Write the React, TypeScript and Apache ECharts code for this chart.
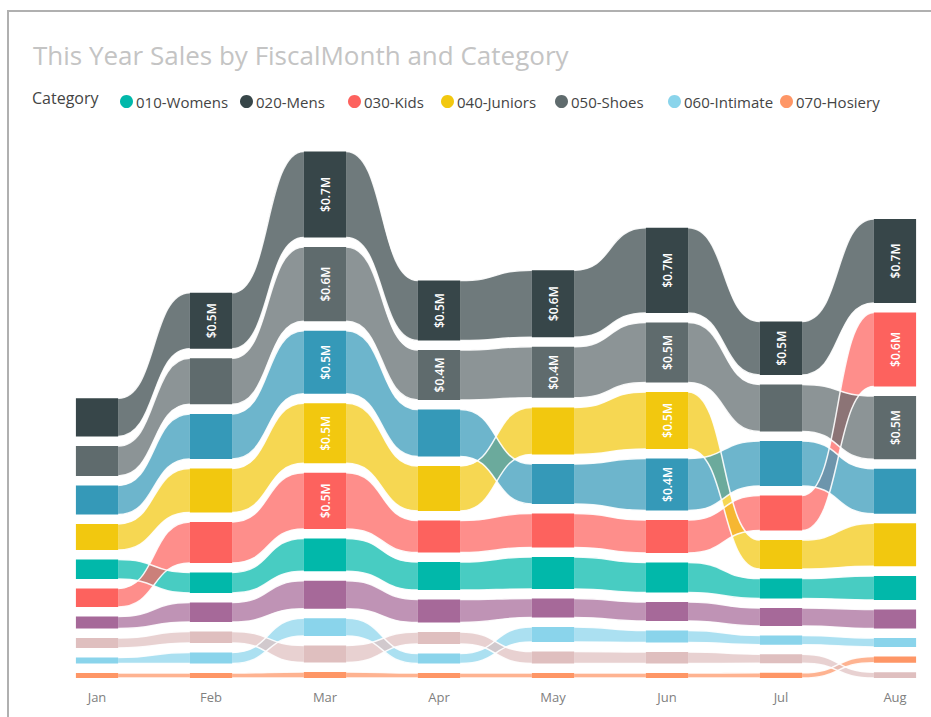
import React, { useEffect, useRef } from "react";
import * as echarts from "echarts";

const months = ["Jan", "Feb", "Mar", "Apr", "May", "Jun", "Jul", "Aug"];
const categories = [
  "010-Womens",
  "020-Mens",
  "030-Kids",
  "040-Juniors",
  "050-Shoes",
  "060-Intimate",
  "070-Hosiery",
  "080-Accessories",
  "090-Home",
  "100-Groceries",
];
const legendNames = categories.slice(0, 7);

// Sales in $M per month
const womens = [0.168, 0.177, 0.284, 0.241, 0.276, 0.259, 0.172, 0.207];
const mens = [0.328, 0.483, 0.741, 0.517, 0.578, 0.733, 0.46, 0.724];
const kids = [0.159, 0.353, 0.483, 0.276, 0.293, 0.284, 0.302, 0.638];
const juniors = [0.224, 0.379, 0.517, 0.388, 0.405, 0.491, 0.25, 0.371];
const shoes = [0.259, 0.397, 0.64, 0.43, 0.44, 0.517, 0.405, 0.545];
const intimate = [0.052, 0.095, 0.151, 0.086, 0.129, 0.103, 0.079, 0.078];
const hosiery = [0.043, 0.043, 0.052, 0.043, 0.043, 0.043, 0.045, 0.053];
const accessories = [0.103, 0.168, 0.241, 0.198, 0.164, 0.164, 0.155, 0.164];
const home = [0.25, 0.388, 0.543, 0.405, 0.345, 0.448, 0.388, 0.388];
const groceries = [0.086, 0.099, 0.147, 0.103, 0.103, 0.099, 0.078, 0.05];

const values = [womens, mens, kids, juniors, shoes, intimate, hosiery, accessories, home, groceries];
const colors = [
  "#01B8AA",
  "#374649",
  "#FD625E",
  "#F2C80F",
  "#5F6B6D",
  "#8AD4EB",
  "#FE9666",
  "#A66999",
  "#3599B8",
  "#DFBFBF",
];

// legend item left positions (px)
const legendLefts = [115, 235, 343, 436, 550, 663, 775];

const GAP = 0.082;
const LABEL_MIN = 0.415;

function rgba(hex: string, a: number) {
  const n = parseInt(hex.slice(1), 16);
  return `rgba(${(n >> 16) & 255},${(n >> 8) & 255},${n & 255},${a})`;
}

export default function App() {
  const ref = useRef<HTMLDivElement>(null);

  useEffect(() => {
    document.body.style.margin = "0";
    if (!ref.current) return;
    const chart = echarts.init(ref.current, null, { renderer: "svg" });

    // stacked ribbon positions: largest on top
    const bottoms: number[][] = values.map(() => []);
    months.forEach((_, j) => {
      const order = values.map((_, i) => i).sort((a, b) => values[a][j] - values[b][j]);
      let y = 0;
      order.forEach((i) => {
        bottoms[i][j] = y;
        y += values[i][j] + GAP;
      });
    });

    const series = categories.map((name, i) => {
      const color = colors[i];
      const data = months.map((_, j) => {
        const b = bottoms[i][j];
        const t = b + values[i][j];
        const hasNext = j < months.length - 1;
        const nb = hasNext ? bottoms[i][j + 1] : b;
        const nt = hasNext ? nb + values[i][j + 1] : t;
        return [j, b, t, values[i][j], nb, nt, hasNext ? 1 : 0];
      });
      return {
        type: "custom",
        name,
        itemStyle: { color },
        encode: { x: 0, y: [1, 2] },
        data,
        renderItem: (params: any, api: any) => {
          const j = api.value(0);
          const b = api.value(1);
          const t = api.value(2);
          const v = api.value(3);
          const nb = api.value(4);
          const nt = api.value(5);
          const hasNext = api.value(6);
          const w = api.size([1, 0])[0] * 0.37;
          const pT = api.coord([j, t]);
          const pB = api.coord([j, b]);
          const children: any[] = [];
          children.push({
            type: "rect",
            shape: { x: pT[0] - w / 2, y: pT[1], width: w, height: pB[1] - pT[1] },
            style: { fill: color },
            z2: 20,
          });
          if (v >= LABEL_MIN) {
            children.push({
              type: "text",
              x: pT[0],
              y: (pT[1] + pB[1]) / 2,
              rotation: Math.PI / 2,
              style: {
                text: "$" + v.toFixed(1) + "M",
                fill: "#ffffff",
                align: "center",
                verticalAlign: "middle",
                font: '600 12px "Open Sans", sans-serif',
              },
              z2: 30,
            });
          }
          if (hasNext) {
            const qT = api.coord([j + 1, nt]);
            const qB = api.coord([j + 1, nb]);
            const x0 = pT[0] + w / 2;
            const x1 = qT[0] - w / 2;
            const c = (x1 - x0) * 0.55;
            const top = `M${x0},${pT[1]} C${x0 + c},${pT[1]} ${x1 - c},${qT[1]} ${x1},${qT[1]}`;
            const bot = `M${x0},${pB[1]} C${x0 + c},${pB[1]} ${x1 - c},${qB[1]} ${x1},${qB[1]}`;
            const area =
              `M${x0},${pT[1]} C${x0 + c},${pT[1]} ${x1 - c},${qT[1]} ${x1},${qT[1]} ` +
              `L${x1},${qB[1]} C${x1 - c},${qB[1]} ${x0 + c},${pB[1]} ${x0},${pB[1]} Z`;
            children.push({
              type: "path",
              shape: { pathData: area },
              style: { fill: rgba(color, 0.72) },
              z2: 1,
            });
            children.push({
              type: "path",
              shape: { pathData: top },
              style: { fill: "none", stroke: "rgba(255,255,255,0.9)", lineWidth: 1.5 },
              z2: 2,
            });
            children.push({
              type: "path",
              shape: { pathData: bot },
              style: { fill: "none", stroke: "rgba(255,255,255,0.9)", lineWidth: 1.5 },
              z2: 2,
            });
          }
          return { type: "group", children };
        },
      };
    });

    const legends = legendNames.map((name, k) => ({
      data: [name],
      left: legendLefts[k],
      top: 89,
      icon: "circle",
      itemWidth: 13,
      itemHeight: 13,
      textStyle: { color: "#444", fontSize: 15, fontFamily: "Open Sans", padding: [0, 0, 0, -2] },
      selectedMode: false,
    }));

    chart.setOption({
      animation: false,
      color: colors,
      title: {
        text: "This Year Sales by FiscalMonth and Category",
        left: 28,
        top: 37,
        textStyle: {
          color: "#c4c4c4",
          fontSize: 26,
          fontWeight: "normal",
          fontFamily: "Open Sans",
        },
      },
      legend: legends,
      graphic: [
        {
          type: "text",
          left: 32,
          top: 90,
          style: { text: "Category", fill: "#444", font: '16px "Open Sans"' },
        },
        {
          type: "line",
          shape: { x1: 8, y1: 11, x2: 931, y2: 11 },
          style: { stroke: "#b0b0b0", lineWidth: 2 },
        },
        {
          type: "line",
          shape: { x1: 8, y1: 10, x2: 8, y2: 717 },
          style: { stroke: "#b0b0b0", lineWidth: 2 },
        },
      ],
      grid: { left: 97, right: 36, top: 150, bottom: 39 },
      xAxis: {
        type: "category",
        data: months,
        boundaryGap: false,
        axisLine: { show: false },
        axisTick: { show: false },
        axisLabel: { color: "#808080", fontSize: 13, fontFamily: "Open Sans", margin: 12 },
      },
      yAxis: { type: "value", min: 0, max: 4.55, show: false },
      series,
    });
    return () => chart.dispose();
  }, []);

  return <div ref={ref} style={{ width: 931, height: 717 }} />;
}
